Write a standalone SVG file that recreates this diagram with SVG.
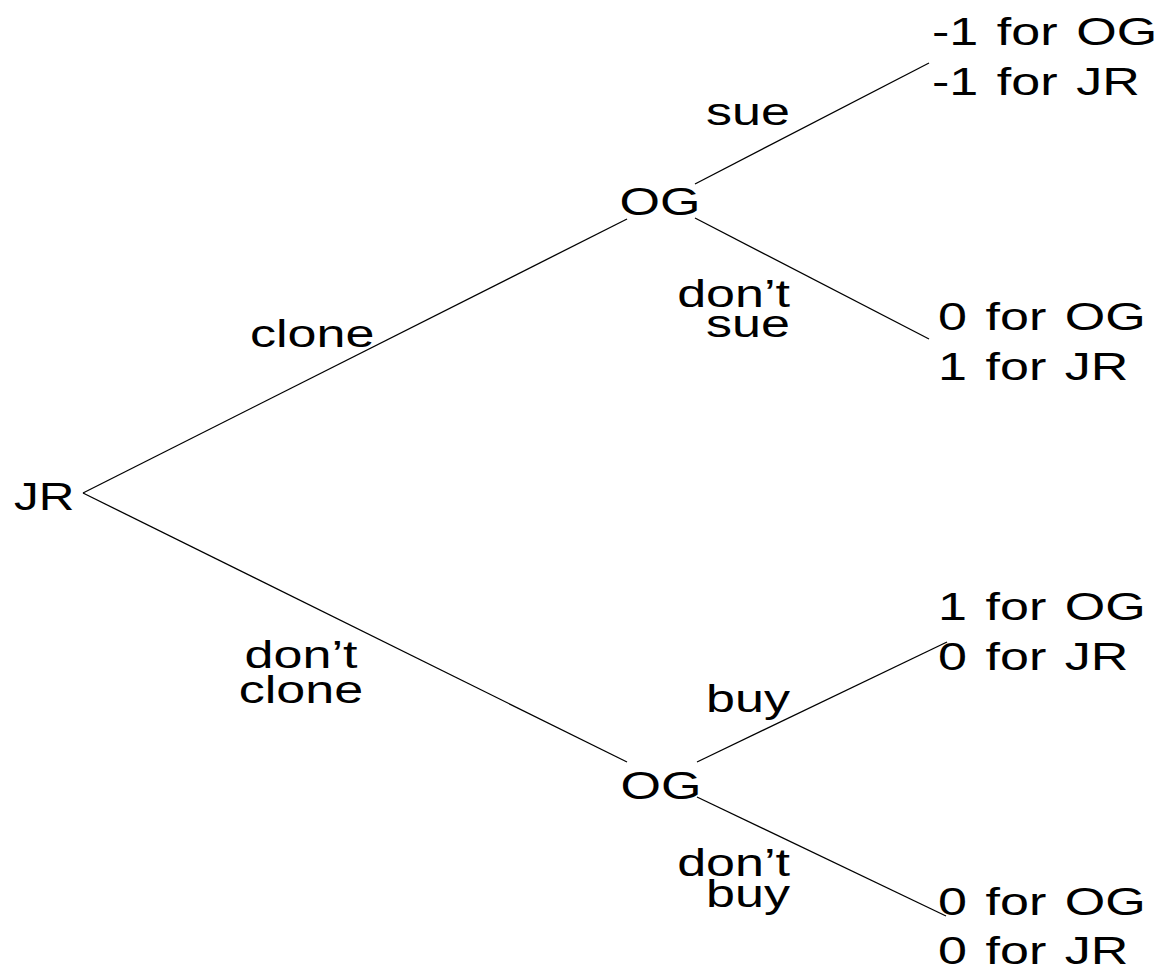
<svg xmlns="http://www.w3.org/2000/svg" width="1165" height="972" viewBox="0 0 1165 972">
  <style>
    .t { font-family: "Liberation Sans", Arial, sans-serif; font-size: 38px; fill: #000; }
    .pay { word-spacing: 3px; }
    .end { text-anchor: end; }
    .mid { text-anchor: middle; }
    .edge { stroke: #000; stroke-width: 1.3; fill: none; }
  </style>
  <rect width="1165" height="972" fill="#fff"/>

  <!-- branches of the game tree -->
  <g id="connectors">
    <line class="edge" x1="83" y1="493" x2="627" y2="219"/>
    <line class="edge" x1="83" y1="493" x2="627" y2="762"/>
    <line class="edge" x1="695" y1="184" x2="929" y2="63"/>
    <line class="edge" x1="695" y1="218" x2="929" y2="339"/>
    <line class="edge" x1="697" y1="762" x2="947" y2="642"/>
    <line class="edge" x1="697" y1="797" x2="946" y2="916"/>
    <!-- move labels -->
    <text class="t" transform="translate(250,347) scale(1.37,1)">clone</text>
    <text class="t mid" transform="translate(301,668) scale(1.37,1)">don’t<tspan x="0" dy="35">clone</tspan></text>
    <text class="t end" transform="translate(790,125) scale(1.37,1)">sue</text>
    <text class="t end" transform="translate(790,307) scale(1.37,1)">don’t<tspan x="0" dy="30">sue</tspan></text>
    <text class="t end" transform="translate(790,712) scale(1.37,1)">buy</text>
    <text class="t end" transform="translate(790,876) scale(1.37,1)">don’t<tspan x="0" dy="31">buy</tspan></text>
  </g>

  <!-- decision nodes -->
  <g id="node-jr">
    <text class="t" transform="translate(14,510) scale(1.3,1)">JR</text>
  </g>
  <g id="node-og-clone">
    <text class="t mid" transform="translate(660,215) scale(1.37,1)">OG</text>
  </g>
  <g id="node-og-noclone">
    <text class="t mid" transform="translate(661,799) scale(1.37,1)">OG</text>
  </g>

  <!-- payoffs -->
  <g id="leaf-sue">
    <text class="t pay" transform="translate(932,45) scale(1.37,1)">-1 for OG<tspan x="0" dy="50">-1 for JR</tspan></text>
  </g>
  <g id="leaf-nosue">
    <text class="t pay" transform="translate(938,330) scale(1.37,1)">0 for OG<tspan x="0" dy="50">1 for JR</tspan></text>
  </g>
  <g id="leaf-buy">
    <text class="t pay" transform="translate(938,620) scale(1.37,1)">1 for OG<tspan x="0" dy="50">0 for JR</tspan></text>
  </g>
  <g id="leaf-nobuy">
    <text class="t pay" transform="translate(938,915) scale(1.37,1)">0 for OG<tspan x="0" dy="49">0 for JR</tspan></text>
  </g>
</svg>
